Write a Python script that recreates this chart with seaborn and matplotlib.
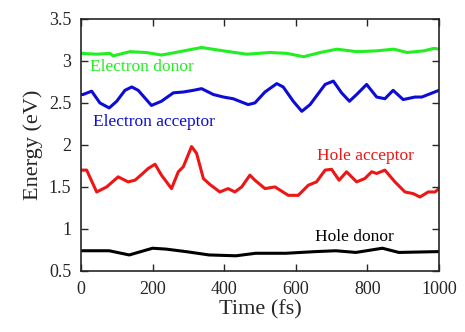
import pandas as pd
import matplotlib.pyplot as plt
import seaborn as sns

# energy levels vs time
t_ed = [0, 44, 81, 90, 137, 183, 225, 276, 337, 398, 463, 528, 575, 622, 668, 715, 771, 827, 874, 911, 958, 986, 1000]
e_ed = [3.09, 3.08, 3.09, 3.06, 3.11, 3.10, 3.07, 3.11, 3.16, 3.12, 3.08, 3.10, 3.09, 3.05, 3.10, 3.14, 3.11, 3.12, 3.14, 3.10, 3.12, 3.15, 3.14]

t_ea = [0, 6, 30, 53, 79, 100, 123, 142, 160, 197, 225, 258, 286, 314, 337, 370, 398, 425, 467, 486,
        514, 547, 565, 593, 617, 640, 682, 705, 728, 750, 770, 798, 826, 849, 872, 900, 933, 952, 1000]
e_ea = [2.60, 2.60, 2.64, 2.50, 2.44, 2.52, 2.65, 2.69, 2.65, 2.47, 2.52, 2.62, 2.63, 2.65, 2.67, 2.60, 2.57, 2.55, 2.48, 2.50,
        2.63, 2.73, 2.69, 2.52, 2.40, 2.48, 2.72, 2.76, 2.62, 2.52, 2.60, 2.72, 2.57, 2.55, 2.65, 2.54, 2.57, 2.57, 2.65]

t_ha = [0, 16, 44, 72, 104, 132, 151, 170, 188, 207, 225, 253, 272, 286, 309, 323, 342, 360, 388, 411, 430, 449, 472, 486,
        514, 542, 579, 607, 635, 658, 682, 700, 721, 742, 770, 793, 812, 826, 849, 877, 905, 928, 947, 970, 989, 1000]
e_ha = [1.70, 1.70, 1.44, 1.50, 1.62, 1.56, 1.58, 1.65, 1.72, 1.77, 1.64, 1.48, 1.68, 1.74, 1.98, 1.90, 1.60, 1.53, 1.44, 1.48, 1.44, 1.50, 1.64, 1.58,
        1.48, 1.50, 1.40, 1.40, 1.52, 1.56, 1.70, 1.71, 1.58, 1.68, 1.56, 1.60, 1.68, 1.66, 1.70, 1.56, 1.44, 1.42, 1.38, 1.44, 1.44, 1.48]

t_hd = [0, 79, 135, 200, 237, 293, 358, 433, 488, 572, 656, 712, 768, 842, 888, 1000]
e_hd = [0.74, 0.74, 0.69, 0.77, 0.76, 0.73, 0.69, 0.68, 0.71, 0.71, 0.73, 0.74, 0.72, 0.77, 0.72, 0.73]

series = [
    ("Electron donor", t_ed, e_ed, "#22ee22", 25, 2.93),
    ("Electron acceptor", t_ea, e_ea, "#0c0cd6", 34, 2.27),
    ("Hole acceptor", t_ha, e_ha, "#ee1515", 658, 1.87),
    ("Hole donor", t_hd, e_hd, "black", 653, 0.905),
]

sns.set_style("ticks")
plt.rcParams['font.family'] = ['Liberation Serif', 'DejaVu Serif']

fig = plt.figure(figsize=(4.65, 3.32), dpi=100)
ax = fig.add_axes([0.174, 0.184, 0.77, 0.759])

for name, t, e, col, lx, ly in series:
    df = pd.DataFrame({"t": t, "e": e})
    sns.lineplot(data=df, x="t", y="e", color=col, linewidth=2.2, ax=ax)
    ax.text(lx, ly, name, color=col, fontsize=12.5, va="center", ha="left")

ax.set_xlim(0, 1000)
ax.set_ylim(0.5, 3.5)
ax.set_xticks([0, 200, 400, 600, 800, 1000])
ax.set_yticks([0.5, 1, 1.5, 2, 2.5, 3, 3.5])
ax.set_yticklabels(["0.5", "1", "1.5", "2", "2.5", "3", "3.5"])
ax.tick_params(direction="in", top=True, right=True, length=5, width=1, labelsize=13, pad=7)
for s in ax.spines.values():
    s.set_linewidth(1.2)
ax.set_xlabel("Time (fs)", fontsize=16, labelpad=2)
ax.set_ylabel("Energy (eV)", fontsize=16, labelpad=4)

fig.savefig("out.png", dpi=100)
